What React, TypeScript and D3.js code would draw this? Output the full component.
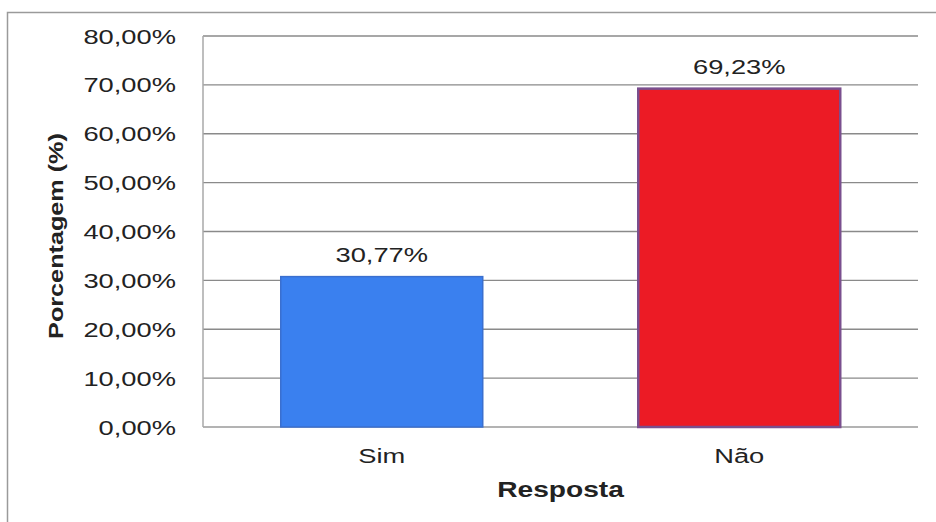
import React from "react";
import * as d3 from "d3";

const categories = ["Sim", "Não"];
const values = [30.77, 69.23];
const barLabels = ["30,77%", "69,23%"];
const yTicks = [0, 10, 20, 30, 40, 50, 60, 70, 80];
const barFills = ["#3a80ef", "#ec1b25"];
const barStrokes = ["#3a6fcf", "#7a4f8e"];
const yTitle = "Porcentagem (%)";
const xTitle = "Resposta";

const W = 936;
const H = 522;
const left = 203;
const right = 918;
const top = 36;
const bottom = 427;

const fmt = (v: number) => v.toFixed(2).replace(".", ",") + "%";

function SText({ x, y, sx = 1.3, anchor = "middle", size = 21, weight = "normal", children }: any) {
  return (
    <text
      transform={`translate(${x},${y}) scale(${sx},1)`}
      textAnchor={anchor}
      fontSize={size}
      fontWeight={weight}
      fontFamily="'Liberation Sans', Arial, sans-serif"
      fill="#222"
    >
      {children}
    </text>
  );
}

export default function App() {
  const x = d3.scaleBand<string>().domain(categories).range([left, right]).paddingInner(0.435).paddingOuter(0.2175);
  const y = d3.scaleLinear().domain([0, 80]).range([bottom, top]);

  return (
    <svg width={W} height={H} style={{ position: "absolute", left: 0, top: 0, background: "#fff" }}>
      <rect x={0} y={0} width={W} height={H} fill="#fff" />
      <rect x={7.5} y={12.5} width={W + 20} height={H + 20} fill="none" stroke="#9a9a9a" strokeWidth={1.5} />
      {yTicks.map((t) => (
        <g key={t}>
          <line x1={left} x2={right} y1={y(t)} y2={y(t)} stroke={t === 0 ? "#9a9a9a" : "#8a8a8a"} strokeWidth={1.3} />
          <SText x={176} y={y(t) + 7.5} anchor="end">
            {fmt(t)}
          </SText>
        </g>
      ))}
      <line x1={left} x2={left} y1={top} y2={bottom} stroke="#a8a8a8" strokeWidth={1.5} />
      {categories.map((c, i) => (
        <g key={c}>
          <rect
            x={x(c)!}
            y={y(values[i])}
            width={x.bandwidth()}
            height={bottom - y(values[i])}
            fill={barFills[i]}
            stroke={barStrokes[i]}
            strokeWidth={i === 1 ? 2.5 : 1.5}
          />
          <SText x={x(c)! + x.bandwidth() / 2} y={y(values[i]) - 14.5}>
            {barLabels[i]}
          </SText>
          <SText x={x(c)! + x.bandwidth() / 2} y={463}>
            {c}
          </SText>
        </g>
      ))}
      <SText x={(left + right) / 2} y={497} size={22} sx={1.28} weight="bold">
        {xTitle}
      </SText>
      <text
        transform={`translate(63,236) rotate(-90) scale(1.2,1)`}
        textAnchor="middle"
        fontSize={21}
        fontWeight="bold"
        fontFamily="'Liberation Sans', Arial, sans-serif"
        fill="#222"
      >
        {yTitle}
      </text>
    </svg>
  );
}
